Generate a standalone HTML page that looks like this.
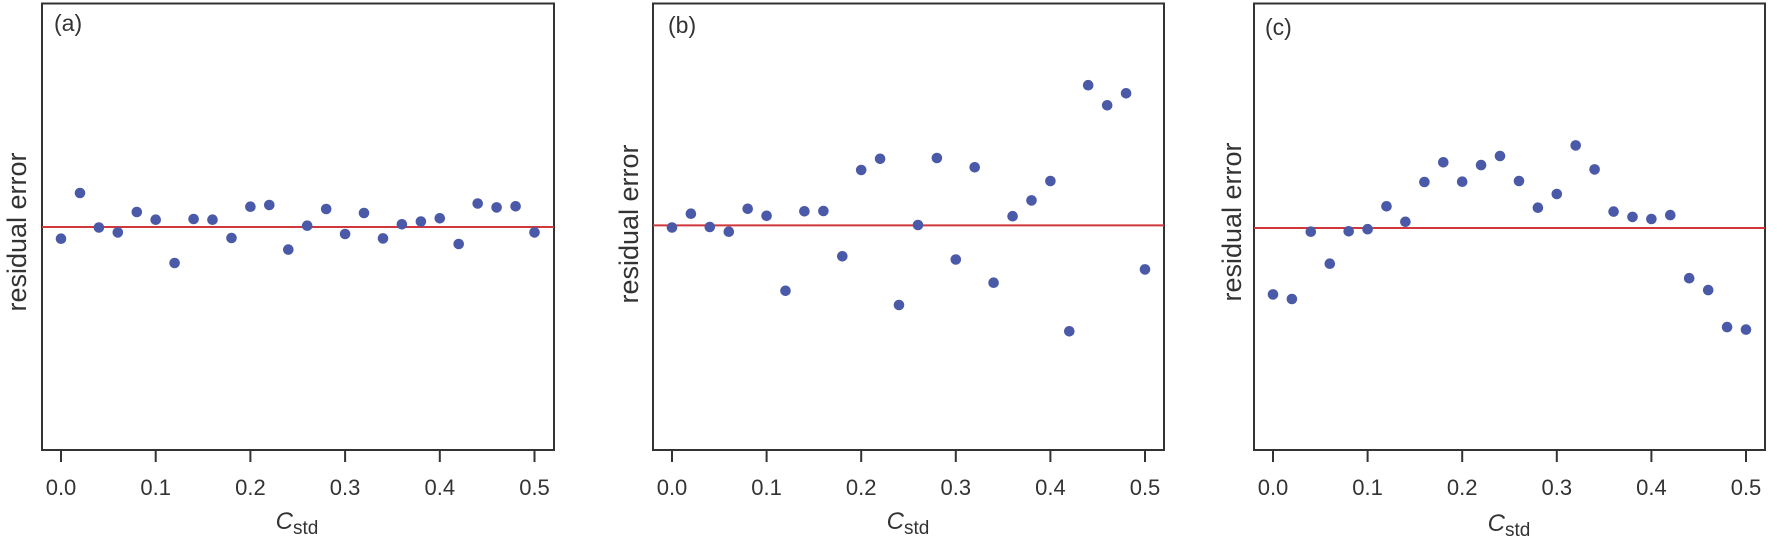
<!DOCTYPE html>
<html><head><style>body{margin:0;background:#fff}svg{display:block}</style></head>
<body>
<svg width="1779" height="552" xmlns="http://www.w3.org/2000/svg" font-family="'Liberation Sans', 'DejaVu Sans', sans-serif" fill="#222">
<g id="pa">
  <rect x="42" y="3.5" width="512" height="446.5" fill="none" stroke="#333" stroke-width="2"/>
  <line x1="42" y1="227" x2="554" y2="227" stroke="#d0383c" stroke-width="2"/>
  <g stroke="#333" stroke-width="2">
    <line x1="61" y1="450" x2="61" y2="462"/><line x1="155.7" y1="450" x2="155.7" y2="462"/><line x1="250.4" y1="450" x2="250.4" y2="462"/><line x1="345.1" y1="450" x2="345.1" y2="462"/><line x1="439.8" y1="450" x2="439.8" y2="462"/><line x1="534.5" y1="450" x2="534.5" y2="462"/>
  </g>
  <g font-size="22" text-anchor="middle" fill="#333">
    <text x="61" y="495">0.0</text><text x="155.7" y="495">0.1</text><text x="250.4" y="495">0.2</text><text x="345.1" y="495">0.3</text><text x="439.8" y="495">0.4</text><text x="534.5" y="495">0.5</text>
  </g>
  <text x="297" y="529" font-size="24" text-anchor="middle" fill="#333"><tspan font-style="italic">C</tspan><tspan font-size="19" dy="5">std</tspan></text>
  <text transform="translate(26,232) rotate(-90)" font-size="27" text-anchor="middle" fill="#333">residual error</text>
  <text x="54" y="31" font-size="23" fill="#333">(a)</text>
  <g fill="#4a5aa8">
    <circle cx="61" cy="238.7" r="5.3"/><circle cx="80" cy="193" r="5.3"/><circle cx="98.9" cy="227.5" r="5.3"/><circle cx="117.8" cy="232.4" r="5.3"/><circle cx="136.8" cy="212" r="5.3"/><circle cx="155.7" cy="219.7" r="5.3"/><circle cx="174.6" cy="263" r="5.3"/><circle cx="193.6" cy="219" r="5.3"/><circle cx="212.5" cy="219.7" r="5.3"/><circle cx="231.5" cy="238" r="5.3"/><circle cx="250.4" cy="206.7" r="5.3"/><circle cx="269.3" cy="205" r="5.3"/><circle cx="288.3" cy="249.6" r="5.3"/><circle cx="307.2" cy="225.7" r="5.3"/><circle cx="326.2" cy="209" r="5.3"/><circle cx="345.1" cy="234" r="5.3"/><circle cx="364" cy="213" r="5.3"/><circle cx="383" cy="238.4" r="5.3"/><circle cx="401.9" cy="224.3" r="5.3"/><circle cx="420.9" cy="221.5" r="5.3"/><circle cx="439.8" cy="218.3" r="5.3"/><circle cx="458.7" cy="244" r="5.3"/><circle cx="477.7" cy="203.5" r="5.3"/><circle cx="496.6" cy="207.4" r="5.3"/><circle cx="515.6" cy="206.3" r="5.3"/><circle cx="534.5" cy="232.4" r="5.3"/>
  </g>
</g>
<g id="pb">
  <rect x="653" y="3.5" width="511" height="446.5" fill="none" stroke="#333" stroke-width="2"/>
  <line x1="653" y1="225.4" x2="1164" y2="225.4" stroke="#d0383c" stroke-width="2"/>
  <g stroke="#333" stroke-width="2">
    <line x1="672" y1="450" x2="672" y2="462"/><line x1="766.6" y1="450" x2="766.6" y2="462"/><line x1="861.2" y1="450" x2="861.2" y2="462"/><line x1="955.8" y1="450" x2="955.8" y2="462"/><line x1="1050.4" y1="450" x2="1050.4" y2="462"/><line x1="1145" y1="450" x2="1145" y2="462"/>
  </g>
  <g font-size="22" text-anchor="middle" fill="#333">
    <text x="672" y="495">0.0</text><text x="766.6" y="495">0.1</text><text x="861.2" y="495">0.2</text><text x="955.8" y="495">0.3</text><text x="1050.4" y="495">0.4</text><text x="1145" y="495">0.5</text>
  </g>
  <text x="908" y="529" font-size="24" text-anchor="middle" fill="#333"><tspan font-style="italic">C</tspan><tspan font-size="19" dy="5">std</tspan></text>
  <text transform="translate(638,224) rotate(-90)" font-size="27" text-anchor="middle" fill="#333">residual error</text>
  <text x="668" y="33" font-size="23" fill="#333">(b)</text>
  <g fill="#4a5aa8">
    <circle cx="672" cy="227.5" r="5.3"/><circle cx="690.9" cy="213.7" r="5.3"/><circle cx="709.8" cy="227" r="5.3"/><circle cx="728.8" cy="231.7" r="5.3"/><circle cx="747.7" cy="208.8" r="5.3"/><circle cx="766.6" cy="215.8" r="5.3"/><circle cx="785.5" cy="290.8" r="5.3"/><circle cx="804.4" cy="211.3" r="5.3"/><circle cx="823.4" cy="211" r="5.3"/><circle cx="842.3" cy="256.3" r="5.3"/><circle cx="861.2" cy="170" r="5.3"/><circle cx="880.1" cy="158.8" r="5.3"/><circle cx="899" cy="305" r="5.3"/><circle cx="918" cy="225" r="5.3"/><circle cx="936.9" cy="158" r="5.3"/><circle cx="955.8" cy="259.5" r="5.3"/><circle cx="974.7" cy="167.3" r="5.3"/><circle cx="993.6" cy="282.7" r="5.3"/><circle cx="1012.6" cy="216.2" r="5.3"/><circle cx="1031.5" cy="200.4" r="5.3"/><circle cx="1050.4" cy="181" r="5.3"/><circle cx="1069.3" cy="331.3" r="5.3"/><circle cx="1088.2" cy="85.2" r="5.3"/><circle cx="1107.2" cy="105.3" r="5.3"/><circle cx="1126.1" cy="93.3" r="5.3"/><circle cx="1145" cy="269.4" r="5.3"/>
  </g>
</g>
<g id="pc">
  <rect x="1254" y="3.5" width="511" height="446.5" fill="none" stroke="#333" stroke-width="2"/>
  <line x1="1254" y1="228" x2="1765" y2="228" stroke="#d0383c" stroke-width="2"/>
  <g stroke="#333" stroke-width="2">
    <line x1="1273" y1="450" x2="1273" y2="462"/><line x1="1367.6" y1="450" x2="1367.6" y2="462"/><line x1="1462.2" y1="450" x2="1462.2" y2="462"/><line x1="1556.8" y1="450" x2="1556.8" y2="462"/><line x1="1651.4" y1="450" x2="1651.4" y2="462"/><line x1="1746" y1="450" x2="1746" y2="462"/>
  </g>
  <g font-size="22" text-anchor="middle" fill="#333">
    <text x="1273" y="495">0.0</text><text x="1367.6" y="495">0.1</text><text x="1462.2" y="495">0.2</text><text x="1556.8" y="495">0.3</text><text x="1651.4" y="495">0.4</text><text x="1746" y="495">0.5</text>
  </g>
  <text x="1509" y="531" font-size="24" text-anchor="middle" fill="#333"><tspan font-style="italic">C</tspan><tspan font-size="19" dy="5">std</tspan></text>
  <text transform="translate(1241,222) rotate(-90)" font-size="27" text-anchor="middle" fill="#333">residual error</text>
  <text x="1265" y="35" font-size="23" fill="#333">(c)</text>
  <g fill="#4a5aa8">
    <circle cx="1273" cy="294.4" r="5.3"/><circle cx="1291.9" cy="299" r="5.3"/><circle cx="1310.8" cy="231.7" r="5.3"/><circle cx="1329.8" cy="263.7" r="5.3"/><circle cx="1348.7" cy="231.3" r="5.3"/><circle cx="1367.6" cy="229.2" r="5.3"/><circle cx="1386.5" cy="206.3" r="5.3"/><circle cx="1405.4" cy="221.8" r="5.3"/><circle cx="1424.4" cy="182" r="5.3"/><circle cx="1443.3" cy="162.3" r="5.3"/><circle cx="1462.2" cy="181.7" r="5.3"/><circle cx="1481.1" cy="165.1" r="5.3"/><circle cx="1500" cy="156" r="5.3"/><circle cx="1519" cy="181" r="5.3"/><circle cx="1537.9" cy="207.7" r="5.3"/><circle cx="1556.8" cy="194" r="5.3"/><circle cx="1575.7" cy="145.4" r="5.3"/><circle cx="1594.6" cy="169.4" r="5.3"/><circle cx="1613.6" cy="211.6" r="5.3"/><circle cx="1632.5" cy="216.9" r="5.3"/><circle cx="1651.4" cy="219" r="5.3"/><circle cx="1670.3" cy="215.1" r="5.3"/><circle cx="1689.2" cy="278.2" r="5.3"/><circle cx="1708.2" cy="290.1" r="5.3"/><circle cx="1727.1" cy="327.1" r="5.3"/><circle cx="1746" cy="329.6" r="5.3"/>
  </g>
</g>
</svg>
</body></html>
